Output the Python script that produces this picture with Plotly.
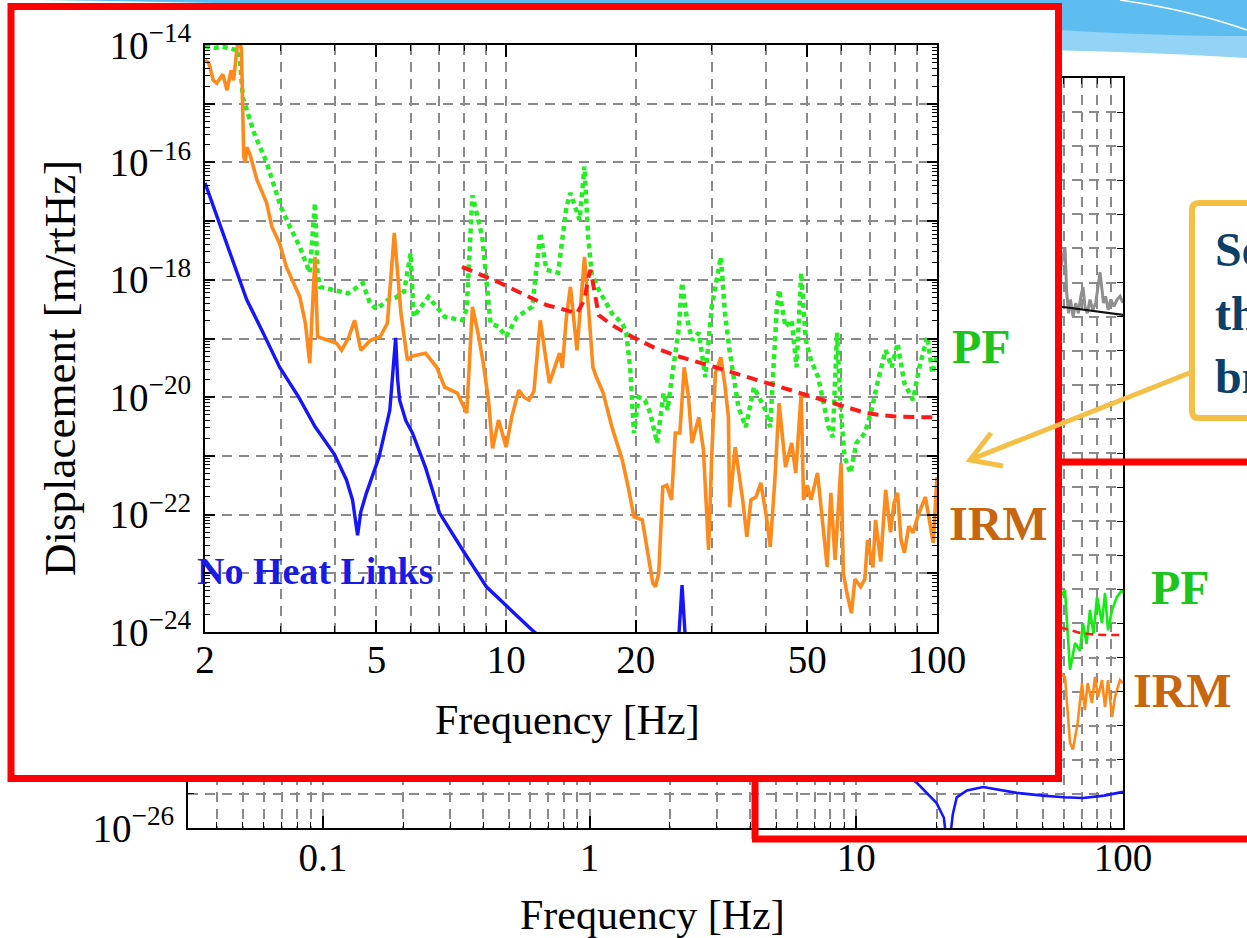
import math
import plotly.graph_objects as go

W, H = 1247, 938


def px(x):
    return x / W


def py(y):
    return 1 - y / H


# ---------------- foreground (inset) data: frequency [Hz], log10 displacement [m/rtHz] ----------------
pf_freq = [2.0, 2.1, 2.2, 2.3, 2.4, 2.45, 2.6, 2.78, 3.0, 3.15, 3.32, 3.5, 3.6, 3.65, 3.7, 3.95, 4.3, 4.65, 4.83,
           5.0, 5.3, 5.55, 5.8, 6.0, 6.1, 6.6, 7.2, 7.9, 8.1, 8.35, 8.6, 8.8, 9.2, 9.6, 10.0, 10.6, 11.5, 12.0,
           12.4, 13.2, 13.8, 14.1, 14.8, 15.2, 15.5, 15.8, 16.4, 17.6, 18.6, 19.0, 19.4, 19.8, 20.3, 21.0, 21.6,
           22.4, 23.2, 23.7, 24.2, 25.1, 25.6, 26.2, 27.0, 28.0, 29.0, 30.0, 31.5, 32.2, 33.0, 34.6, 36.0, 37.6,
           40.0, 41.0, 42.5, 43.0, 44.5, 46.0, 47.2, 48.4, 49.6, 51.0, 53.0, 54.5, 56.0, 57.3, 58.6, 59.8, 61.0,
           63.0, 65.0, 68.0, 70.5, 73.0, 76.0, 78.5, 81.0, 84.0, 88.0, 91.0, 95.0, 97.5, 100.0]
pf_log10 = [-14.02, -14.05, -14.03, -14.06, -14.1, -14.9, -15.5, -16.0, -16.76, -17.1, -17.44, -17.88, -16.69, -17.9,
            -18.12, -18.17, -18.23, -18.06, -18.4, -18.5, -18.35, -18.3, -18.2, -17.55, -18.63, -18.29, -18.63,
            -18.69, -18.5, -16.56, -17.0, -17.27, -18.74, -18.8, -18.97, -18.63, -18.46, -17.2, -17.83, -17.88,
            -16.76, -16.52, -16.98, -16.07, -17.27, -17.9, -18.17, -18.57, -18.74, -18.9, -19.5, -20.61, -20.0,
            -20.05, -20.27, -20.78, -19.93, -20.22, -19.71, -18.9, -18.05, -18.6, -19.03, -18.9, -19.66, -18.46,
            -17.61, -18.57, -19.2, -20.17, -20.51, -19.83, -20.22, -20.51, -18.46, -18.17, -18.8, -18.69, -19.49,
            -17.88, -19.03, -19.37, -19.66, -20.05, -20.51, -20.68, -18.9, -20.2, -21.02, -21.29, -20.78, -20.61,
            -20.22, -19.71, -19.2, -19.49, -19.08, -19.76, -20.05, -19.49, -18.97, -19.59, -19.3]

irm_freq = [2.0, 2.04, 2.09, 2.13, 2.2, 2.25, 2.3, 2.33, 2.37, 2.4, 2.43, 2.46, 2.48, 2.5, 2.54, 2.64, 2.78, 2.86,
            2.98, 3.09, 3.32, 3.42, 3.5, 3.55, 3.6, 3.65, 3.83, 4.04, 4.15, 4.3, 4.45, 4.6, 4.84, 5.1, 5.3, 5.5,
            5.7, 5.9, 6.06, 6.5, 6.9, 7.2, 7.7, 8.1, 8.35, 8.6, 8.85, 9.1, 9.3, 9.6, 10.0, 10.3, 10.7, 11.0, 11.3,
            11.6, 12.0, 12.6, 13.3, 13.5, 13.8, 14.1, 14.6, 14.9, 15.2, 15.5, 15.9, 16.2, 16.8, 17.6, 18.6, 19.2,
            19.8, 20.7, 21.3, 21.9, 22.2, 22.6, 23.1, 23.6, 24.2, 24.7, 25.3, 25.9, 26.5, 27.0, 28.0, 28.7, 29.5,
            30.0, 30.6, 31.5, 32.2, 32.8, 33.0, 34.0, 35.4, 36.2, 37.0, 38.0, 39.0, 40.2, 41.0, 42.0, 43.0, 44.5,
            46.0, 47.0, 48.4, 49.0, 50.0, 51.0, 52.8, 54.0, 55.6, 56.7, 58.0, 59.9, 60.6, 61.8, 63.3, 64.5, 66.5,
            68.0, 69.0, 71.0, 72.0, 74.0, 76.0, 78.0, 79.5, 81.0, 82.5, 84.0, 86.0, 88.0, 90.5, 94.0, 96.5, 98.0,
            100.0]
irm_log10 = [-14.26, -14.3, -14.6, -14.65, -14.5, -14.77, -14.43, -14.6, -14.09, -13.8, -14.1, -15.9, -16.0, -15.74,
             -15.85, -16.3, -16.69, -17.1, -17.38, -17.78, -18.29, -18.74, -19.42, -18.5, -17.61, -18.97, -19.03,
             -19.08, -19.2, -19.0, -18.69, -19.2, -19.03, -18.97, -18.74, -17.2, -18.57, -19.37, -19.3, -19.25,
             -19.49, -19.83, -19.93, -20.27, -18.46, -18.9, -19.42, -20.05, -20.87, -20.39, -20.85, -20.34, -19.88,
             -20.0, -20.05, -19.9, -18.69, -19.76, -19.25, -19.5, -18.63, -18.12, -19.2, -18.3, -17.61, -18.4,
             -19.49, -19.66, -19.93, -20.51, -21.07, -21.53, -22.04, -22.09, -22.65, -23.17, -23.23, -23.0, -21.53,
             -21.5, -21.75, -20.61, -20.61, -19.49, -20.0, -20.78, -20.34, -20.9, -22.6, -21.0, -19.59, -19.32,
             -19.8, -20.34, -21.87, -20.85, -21.75, -22.38, -21.75, -21.7, -21.46, -22.04, -22.55, -21.46, -20.1,
             -21.19, -20.78, -21.29, -19.93, -21.75, -21.5, -21.75, -21.29, -22.04, -22.89, -21.63, -22.77, -21.12,
             -22.99, -23.34, -23.68, -23.1, -23.23, -23.1, -22.43, -22.9, -22.09, -22.8, -21.58, -22.3, -21.8,
             -21.63, -22.43, -22.65, -22.2, -22.31, -22.0, -21.7, -22.2, -22.48, -21.36]

req_freq = [7.9, 8.5, 9.66, 11.0, 12.4, 13.5, 14.6, 15.2, 15.5, 15.7, 16.0, 16.4, 17.6, 19.6, 22.0, 25.0, 30.6,
            35.0, 40.0, 47.8, 55.0, 60.0, 68.4, 75.0, 80.0, 90.0, 100.0]
req_log10 = [-17.78, -17.88, -18.05, -18.25, -18.43, -18.5, -18.57, -18.34, -17.97, -17.83, -18.17, -18.6, -18.77,
             -18.97, -19.15, -19.3, -19.49, -19.62, -19.75, -19.93, -20.07, -20.15, -20.27, -20.31, -20.33, -20.34,
             -20.34]

nhl_freq = [2.0, 2.2, 2.5, 2.71, 2.98, 3.3, 3.6, 4.0, 4.26, 4.4, 4.52, 4.6, 4.74, 5.07, 5.37, 5.47, 5.54, 5.6,
            5.66, 5.85, 6.06, 6.5, 7.0, 8.0, 9.0, 10.0, 11.5, 13.0, 16.0, 20.0, 24.0, 25.0, 25.6, 26.2, 27.5, 35.0,
            50.0, 100.0]
nhl_log10 = [-16.35, -17.2, -18.34, -18.86, -19.49, -20.0, -20.5, -20.98, -21.41, -21.75, -22.35, -21.95, -21.63,
             -21.02, -20.22, -19.49, -18.99, -19.7, -20.05, -20.4, -20.61, -21.2, -21.97, -22.65, -23.23, -23.55,
             -23.97, -24.3, -24.8, -25.1, -25.0, -24.4, -23.2, -24.4, -25.0, -25.2, -25.3, -25.3]

# ---------------- background (full-range) plot data ----------------
bg_seis_freq = [55, 60.6, 61.5, 62.5, 63.5, 65.0, 66.5, 68.0, 69.5, 70.8, 72.0, 73.5, 75.2, 77.0, 79.0, 80.6, 82.0,
                83.4, 84.5, 86.0, 88.0, 90.0, 92.5, 95.0, 97.5, 100]
bg_seis_log10 = [-10.6, -8.96, -10.3, -10.9, -10.5, -11.0, -10.6, -10.9, -10.4, -10.13, -10.7, -10.9, -10.5, -10.8,
                 -10.6, -10.1, -9.7, -10.2, -10.6, -10.4, -10.8, -10.5, -10.7, -10.5, -10.4, -10.6]
bg_model_freq = [55, 60, 70, 80, 90, 100]
bg_model_log10 = [-10.68, -10.72, -10.8, -10.86, -10.91, -10.95]
bg_pf_freq = [55, 60.6, 63.3, 66.1, 69.0, 70.8, 73.0, 75.2, 77.5, 79.9, 83.4, 85.6, 87.9, 91.0, 94.9, 99.1, 100]
bg_pf_log10 = [-19.5, -19.02, -21.36, -20.57, -20.8, -19.99, -20.6, -19.6, -20.3, -19.22, -19.99, -19.1, -20.2,
               -19.6, -19.22, -19.02, -19.1]
bg_irm_freq = [55, 60.6, 63.3, 64.9, 67.6, 70.2, 71.9, 73.7, 76.5, 78.5, 80.6, 83.4, 85.6, 87.9, 91.0, 93.3, 97.4, 100]
bg_irm_log10 = [-21.3, -21.57, -23.5, -23.7, -22.92, -21.75, -22.54, -21.75, -22.33, -21.57, -22.16, -21.66, -22.45,
                -21.66, -22.74, -22.16, -21.66, -21.75]
bg_nhl_freq = [12, 15, 16.9, 20.0, 21.3, 22.1, 23.0, 23.8, 26.0, 29.9, 35.0, 40.0, 50.0, 60.0, 70.8, 85.0, 100.0]
bg_nhl_log10 = [-23.9, -24.4, -24.68, -25.27, -25.7, -26.8, -25.6, -25.1, -24.9, -24.8, -24.88, -24.97, -25.05,
                -25.1, -25.12, -25.05, -24.94]

# tick labels
fg_x_major = [2, 5, 10, 20, 50, 100]
fg_x_minor = [3, 4, 6, 7, 8, 9, 30, 40, 60, 70, 80, 90]
fg_y_exps = list(range(-24, -13))
bg_x_major = [0.1, 1, 10, 100]
bg_x_labels = ["0.1", "1", "10", "100"]
bg_y_exps_major = [-26, -22, -18, -14, -10, -6]


def lin(vals):
    return [10 ** v for v in vals]


SERIF = "Liberation Serif, Times New Roman, serif"
TICK_SIZE = 39
tick_font = dict(family=SERIF, size=TICK_SIZE, color="black")
GRID = dict(showgrid=True, gridcolor="#8a8a8a", gridwidth=1.6, griddash="10px,7px")


def sup(e):
    return "10<sup>\u2212%d</sup>" % (-e)


fig = go.Figure()

common = dict(mode="lines", hoverinfo="skip", showlegend=False)
# background traces
fig.add_trace(go.Scatter(x=bg_seis_freq, y=lin(bg_seis_log10), line=dict(color="#8f8f8f", width=3), xaxis="x", yaxis="y", **common))
fig.add_trace(go.Scatter(x=bg_model_freq, y=lin(bg_model_log10), line=dict(color="#111111", width=2.2), xaxis="x", yaxis="y", **common))
fig.add_trace(go.Scatter(x=bg_pf_freq, y=lin(bg_pf_log10), line=dict(color="#11ee11", width=2.6), xaxis="x", yaxis="y", **common))
fig.add_trace(go.Scatter(x=bg_irm_freq, y=lin(bg_irm_log10), line=dict(color="#ff8a1c", width=2.6), xaxis="x", yaxis="y", **common))
fig.add_trace(go.Scatter(x=req_freq, y=lin(req_log10), line=dict(color="#ff1a1a", width=2.6, dash="8px,5px"), xaxis="x", yaxis="y", **common))
fig.add_trace(go.Scatter(x=bg_nhl_freq, y=lin(bg_nhl_log10), line=dict(color="#1515ff", width=2.6), xaxis="x", yaxis="y", **common))

# mask subplot (opaque white panel of the inset)
fig.add_trace(go.Scatter(x=[1], y=[1], mode="markers", marker=dict(opacity=0), xaxis="x2", yaxis="y2",
                         hoverinfo="skip", showlegend=False))

# foreground (inset) traces
fig.add_trace(go.Scatter(x=pf_freq, y=lin(pf_log10), line=dict(color="#22ee22", width=4.5, dash="5px,4px"), xaxis="x3", yaxis="y3", **common))
fig.add_trace(go.Scatter(x=irm_freq, y=lin(irm_log10), line=dict(color="#ff8a1c", width=3.6), xaxis="x3", yaxis="y3", **common))
fig.add_trace(go.Scatter(x=req_freq, y=lin(req_log10), line=dict(color="#ff1a1a", width=4, dash="11px,7px"), xaxis="x3", yaxis="y3", **common))
fig.add_trace(go.Scatter(x=nhl_freq, y=lin(nhl_log10), line=dict(color="#1515ff", width=3.4), xaxis="x3", yaxis="y3", **common))

frame = dict(showline=True, linecolor="black", linewidth=2, mirror="ticks", ticks="inside", tickcolor="black",
             zeroline=False, tickfont=tick_font, automargin=False)

bg_x_minor = [k * 10 ** n for n in (-2, -1, 0, 1) for k in range(2, 10) if 0.035 < k * 10 ** n < 100]
bg_y_minor = [10 ** e for e in range(-26, -3)]
fg_y_minor = [k * 10 ** e for e in range(-24, -14) for k in range(2, 10)]

layout_axes = dict(
    xaxis=dict(type="log", domain=[px(188), px(1123)], range=[math.log10(0.0312), 2], anchor="y",
               tickmode="array", tickvals=bg_x_major, ticktext=bg_x_labels, ticklen=12, tickwidth=1.5,
               ticklabelstandoff=-6, **frame, **GRID,
               minor=dict(tickmode="array", tickvals=bg_x_minor, ticks="inside", ticklen=6, tickwidth=1.2,
                          tickcolor="black", **GRID)),
    yaxis=dict(type="log", domain=[py(828), py(78)], range=[-26, -4], anchor="x",
               tickmode="array", tickvals=[10 ** e for e in bg_y_exps_major],
               ticktext=[sup(e) if e == -26 else "" for e in bg_y_exps_major], ticklen=12, tickwidth=1.5,
               ticklabelstandoff=4, **frame, **GRID,
               minor=dict(tickmode="array", tickvals=bg_y_minor, ticks="inside", ticklen=6, tickwidth=1.2,
                          tickcolor="black", **GRID)),
    xaxis2=dict(domain=[px(8), px(1062)], range=[0, 2], anchor="y2", visible=False),
    yaxis2=dict(domain=[py(782), py(3)], range=[0, 2], anchor="x2", visible=False),
    xaxis3=dict(type="log", domain=[px(205), px(937)], range=[math.log10(2), 2], anchor="y3",
                tickmode="array", tickvals=fg_x_major, ticktext=[str(v) for v in fg_x_major], ticklen=12,
                tickwidth=1.5, ticklabelstandoff=-8, **frame, **GRID,
                minor=dict(tickmode="array", tickvals=fg_x_minor, ticks="inside", ticklen=6, tickwidth=1.2,
                           tickcolor="black", **GRID)),
    yaxis3=dict(type="log", domain=[py(632), py(45)], range=[-24, -14], anchor="x3",
                tickmode="array", tickvals=[10 ** e for e in fg_y_exps],
                ticktext=[sup(e) if e % 2 == 0 else "" for e in fg_y_exps], ticklen=10, tickwidth=1.5,
                ticklabelstandoff=4, **frame, **GRID,
                minor=dict(tickmode="array", tickvals=fg_y_minor, ticks="inside", ticklen=5, tickwidth=1,
                           tickcolor="black")),
)


def qpath(cmds):
    out = []
    for c in cmds:
        op, pts = c[0], c[1:]
        out.append(op + " " + " ".join("%f,%f" % (px(a), py(b)) for a, b in pts))
    return " ".join(out)


shapes = []
PAPER = dict(xref="paper", yref="paper")
# slide decoration (light blue swoosh, top right)
shapes.append(dict(type="path", layer="below", line=dict(width=0), fillcolor="#93d3f5", **PAPER,
                   path=qpath([("M", (900, 0)), ("L", (1247, 0)), ("L", (1247, 58)), ("Q", (1150, 52), (1040, 50)), ("Z",)])))
shapes.append(dict(type="path", layer="below", line=dict(width=0), fillcolor="#5dbdf0", **PAPER,
                   path=qpath([("M", (40, 0)), ("Q", (600, 8), (1060, 30)), ("Q", (1160, 36), (1247, 36)),
                               ("L", (1247, 0)), ("Z",)])))
shapes.append(dict(type="path", layer="below", line=dict(width=1.5, color="white"), **PAPER,
                   path=qpath([("M", (1120, 0)), ("Q", (1190, 10), (1247, 30))])))

RED = "#ff0000"
# second (background) red box: visible edges only
for (a, b) in [((1058, 462), (1247, 462)), ((755, 778), (755, 839)), ((752, 839), (1247, 839))]:
    shapes.append(dict(type="line", layer="above", line=dict(color=RED, width=7), **PAPER,
                       x0=px(a[0]), y0=py(a[1]), x1=px(b[0]), y1=py(b[1])))
# inset red box
shapes.append(dict(type="rect", layer="above", line=dict(color=RED, width=7), **PAPER,
                   x0=px(11), y0=py(778.5), x1=px(1058.5), y1=py(6.5)))

YEL = "#f3bf45"
# callout box (open at the right page edge)
shapes.append(dict(type="path", layer="above", line=dict(width=0), fillcolor="white", **PAPER,
                   path=qpath([("M", (1192, 203)), ("L", (1247, 203)), ("L", (1247, 418)), ("L", (1192, 418)), ("Z",)])))
shapes.append(dict(type="path", layer="above", line=dict(color=YEL, width=6), **PAPER,
                   path=qpath([("M", (1247, 203)), ("L", (1199, 203)), ("Q", (1192, 203), (1192, 210)),
                               ("L", (1192, 411)), ("Q", (1192, 418), (1199, 418)), ("L", (1247, 418))])))
# arrow
shapes.append(dict(type="line", layer="above", line=dict(color=YEL, width=5), **PAPER,
                   x0=px(1192), y0=py(372), x1=px(972), y1=py(459)))
shapes.append(dict(type="path", layer="above", line=dict(color=YEL, width=5), **PAPER,
                   path=qpath([("M", (991, 433)), ("L", (970, 460)), ("L", (1003, 466))])))

annotations = []


def txt(x, y, s, size, color, weight="normal", xanchor="center", angle=0):
    annotations.append(dict(x=px(x), y=py(y), xref="paper", yref="paper", text=s, showarrow=False,
                            xanchor=xanchor, yanchor="middle", textangle=angle,
                            font=dict(family=SERIF, size=size, color=color, weight=weight)))


txt(567, 720, "Frequency [Hz]", 42, "black")
txt(60, 368, "Displacement [m/rtHz]", 45, "black", angle=-90)
txt(652, 915, "Frequency [Hz]", 42, "black")
txt(195, 571, "No Heat Links", 38, "#1a1ae6", "bold", "left")
txt(981, 347, "PF", 48, "#1cc41c", "bold")
txt(998, 523, "IRM", 48, "#c8660f", "bold")
txt(1180, 587, "PF", 48, "#1cc41c", "bold")
txt(1182, 690, "IRM", 48, "#c8660f", "bold")
txt(1213, 250, "Se", 48, "#0b4068", "bold", "left")
txt(1213, 313, "th", 48, "#0b4068", "bold", "left")
txt(1213, 376, "b\u0131", 48, "#0b4068", "bold", "left")

fig.update_layout(
    width=W, height=H, autosize=False,
    margin=dict(l=0, r=0, t=0, b=0, pad=0, autoexpand=False),
    paper_bgcolor="white", plot_bgcolor="white",
    showlegend=False,
    shapes=shapes, annotations=annotations,
    **layout_axes,
)

fig.write_html("out.html", config={"displayModeBar": False, "responsive": False},
               post_script="document.body.style.margin='0';document.body.style.overflow='hidden';")
